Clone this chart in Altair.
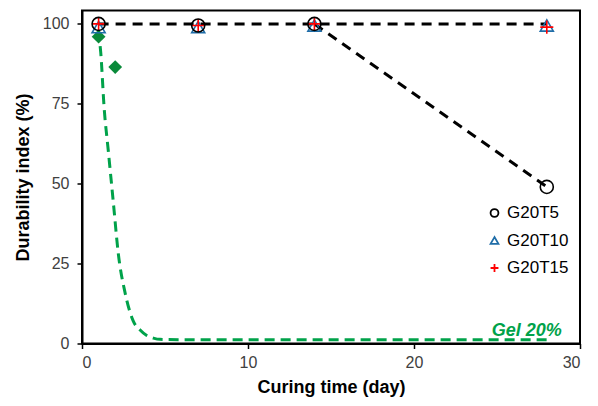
import altair as alt
import pandas as pd

# ---- data ----
days = [1, 7, 14, 28]
g20t5 = [100, 99.5, 100, 49]
g20t10 = [99, 99, 99.5, 99.5]
g20t15 = [100, 99.5, 100, 99]
series_names = ["G20T5", "G20T10", "G20T15"]

gel_days = [1, 2]
gel_vals = [96, 86.5]

# dashed trend lines
flat_x = [1, 28]
flat_y = [100, 100]
drop_x = [14, 28]
drop_y = [100, 49]

gel_curve_x = [0.97, 1.13, 1.33, 1.59, 1.89, 2.19, 2.59, 3.09, 3.5, 3.9, 4.3, 4.7, 6, 28]
gel_curve_y = [98, 91, 74, 60, 44, 28, 16, 7, 4.2, 2.5, 1.7, 1.3, 1.2, 1.2]

gel_label = ["Gel 20%"]
gel_label_x = [28.9]
gel_label_y = [2.4]

# ---- tables ----
pts = pd.DataFrame({
    "day": days * 3,
    "val": g20t5 + g20t10 + g20t15,
    "series": [s for s in series_names for _ in days],
})
gel = pd.DataFrame({"day": gel_days, "val": gel_vals})
flat = pd.DataFrame({"day": flat_x, "val": flat_y})
drop = pd.DataFrame({"day": drop_x, "val": drop_y})
curve = pd.DataFrame({"day": gel_curve_x, "val": gel_curve_y})
lab = pd.DataFrame({"t": gel_label, "day": gel_label_x, "val": gel_label_y})

xs = alt.Scale(domain=[0, 30], nice=False, zero=False)
ys = alt.Scale(domain=[0, 104.2], nice=False, zero=False)

X = alt.X("day:Q", scale=xs, title="Curing time (day)",
          axis=alt.Axis(values=[0, 10, 20, 30], format="d"))
Y = alt.Y("val:Q", scale=ys, title="Durability index (%)",
          axis=alt.Axis(values=[0, 25, 50, 75, 100], format="d"))

plus_path = "M-1,0H1M0,-1V1"
shape_scale = alt.Scale(domain=series_names, range=["circle", "triangle-up", plus_path])
color_scale = alt.Scale(domain=series_names, range=["black", "#1F6DA8", "#FF0000"])

dash_black = dict(color="black", strokeWidth=3, strokeDash=[10, 7])

flat_line = alt.Chart(flat).mark_line(**dash_black).encode(x=X, y=Y)
drop_line = alt.Chart(drop).mark_line(**dash_black).encode(x=X, y=Y)
gel_line = alt.Chart(curve).mark_line(
    color="#00A24A", strokeWidth=3, strokeDash=[10, 6], interpolate="monotone"
).encode(x=X, y=Y)

# legend-only layer (no rows drawn) so legend symbols can be smaller
legend_layer = alt.Chart(pts).transform_filter("false").mark_point(
    filled=False, size=62, strokeWidth=1.8, opacity=1
).encode(
    x=X, y=Y,
    shape=alt.Shape("series:N", scale=shape_scale, legend=alt.Legend(title=None)),
    color=alt.Color("series:N", scale=color_scale, legend=alt.Legend(title=None)),
)

points = alt.Chart(pts).mark_point(filled=False, size=170, strokeWidth=1.6, opacity=1).encode(
    x=X, y=Y,
    shape=alt.Shape("series:N", scale=shape_scale, legend=None),
    color=alt.Color("series:N", scale=color_scale, legend=None),
    order=alt.Order("series:N"),
)

gel_pts = alt.Chart(gel).mark_point(
    shape="diamond", filled=True, size=190, color="#0A8A3A", opacity=1
).encode(x=X, y=Y)

gel_text = alt.Chart(lab).mark_text(
    align="right", baseline="alphabetic", fontSize=18, fontWeight="bold",
    fontStyle="italic", color="#00A24A", font="Liberation Sans"
).encode(x=X, y=Y, text="t:N")

chart = alt.layer(legend_layer, gel_line, flat_line, drop_line, gel_pts, points, gel_text).properties(
    width=498, height=333,
    autosize=alt.AutoSizeParams(type="none"),
    padding={"left": 74, "top": 2.5, "right": 8, "bottom": 55},
).configure_view(
    stroke="black", strokeWidth=2
).configure_axis(
    grid=False,
    domainColor="black", domainWidth=2,
    tickColor="black", tickWidth=1.5, tickSize=5,
    labelFont="Liberation Sans", labelFontSize=16, labelColor="#404040",
    titleFont="Liberation Sans", titleFontSize=18, titleFontWeight="bold",
    titleColor="black",
).configure_axisX(
    labelPadding=6, titlePadding=8
).configure_axisY(
    labelPadding=8, titlePadding=10
).configure_legend(
    orient="none", legendX=404, legendY=194, padding=0,
    symbolSize=62, symbolStrokeWidth=1.8,
    labelFont="Liberation Sans", labelFontSize=17, labelColor="black",
    labelOffset=4, rowPadding=9.5,
)

chart.save("out.html", embed_options={"renderer": "svg", "actions": False})
